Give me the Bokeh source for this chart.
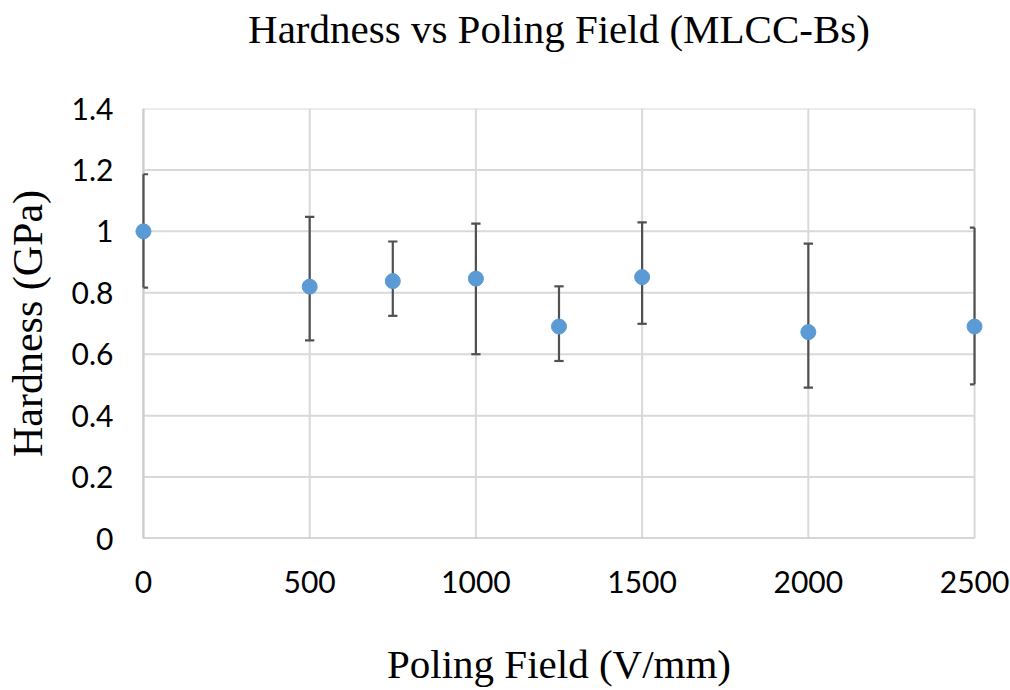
from bokeh.plotting import figure
from bokeh.models import Range1d, FixedTicker, CustomJSTickFormatter, ColumnDataSource, LinearAxis
from bokeh.embed import file_html
from bokeh.resources import INLINE
import numpy as np

# ---- data ----
field = [0, 500, 750, 1000, 1250, 1500, 2000, 2500]
hardness = [1.00, 0.820, 0.838, 0.846, 0.690, 0.851, 0.672, 0.690]
err_upper = [1.186, 1.047, 0.967, 1.025, 0.821, 1.029, 0.960, 1.012]
err_lower = [0.817, 0.645, 0.725, 0.600, 0.578, 0.699, 0.491, 0.502]
x_ticks = [0, 500, 1000, 1500, 2000, 2500]
y_ticks = [0, 0.2, 0.4, 0.6, 0.8, 1, 1.2, 1.4]
x_min, x_max = 0, 2500
y_min, y_max = 0, 1.4

title_txt = "Hardness vs Poling Field (MLCC-Bs)"
xlabel_txt = "Poling Field (V/mm)"
ylabel_txt = "Hardness (GPa)"

pad = 45  # data units of padding so end markers are not clipped
frame_w = 861
frame_h = 430
W, H = 1010, 690

p = figure(width=W, height=H, output_backend="svg", toolbar_location=None,
           x_range=Range1d(x_min - pad, x_max + pad), y_range=Range1d(y_min, y_max),
           frame_width=frame_w, frame_height=frame_h,
           min_border_left=128, min_border_right=W - 128 - frame_w,
           min_border_top=108, min_border_bottom=H - 108 - frame_h)
p.outline_line_color = None
p.xgrid.visible = False
p.ygrid.visible = False
p.background_fill_color = "white"

bottom_ax = p.below[0]
left_ax = p.left[0]

# chart title as the label of a tick-less axis above the frame
top_ax = LinearAxis(ticker=FixedTicker(ticks=[]), axis_label=title_txt)
p.add_layout(top_ax, "above")

for ax in (bottom_ax, left_ax, top_ax):
    ax.axis_line_color = None
    ax.major_tick_line_color = None
    ax.minor_tick_line_color = None
    ax.major_label_text_font = "Lato"
    ax.major_label_text_font_size = "30px"
    ax.major_label_text_color = "black"
    ax.axis_label_text_font = "Liberation Serif"
    ax.axis_label_text_font_size = "41px"
    ax.axis_label_text_font_style = "normal"
    ax.axis_label_text_color = "black"
    ax.major_tick_out = 0
    ax.major_tick_in = 0
    ax.minor_tick_out = 0
    ax.minor_tick_in = 0

top_ax.major_label_standoff = 0
top_ax.axis_label_standoff = 57

bottom_ax.ticker = FixedTicker(ticks=x_ticks)
left_ax.ticker = FixedTicker(ticks=y_ticks)
left_ax.formatter = CustomJSTickFormatter(code="return tick.toString();")
bottom_ax.major_label_standoff = 32
left_ax.major_label_standoff = 15
bottom_ax.axis_label = xlabel_txt
bottom_ax.axis_label_standoff = 45
left_ax.axis_label = ylabel_txt
left_ax.axis_label_text_font_size = "42px"
left_ax.axis_label_standoff = 18

# gridlines (from tick arrays)
p.segment(x0=[x_min] * len(y_ticks), x1=[x_max] * len(y_ticks), y0=y_ticks, y1=y_ticks,
          line_color="#d9d9d9", line_width=2)
p.segment(x0=x_ticks, x1=x_ticks, y0=[y_min] * len(x_ticks), y1=[y_max] * len(x_ticks),
          line_color="#d9d9d9", line_width=2)
# axis lines
p.segment(x0=[x_min], x1=[x_max], y0=[y_min], y1=[y_min], line_color="#bfbfbf", line_width=2)
p.segment(x0=[x_min], x1=[x_min], y0=[y_min], y1=[y_max], line_color="#cccccc", line_width=2)

# error bars
p.segment(x0=field, x1=field, y0=err_lower, y1=err_upper, line_color="#505050", line_width=2.2)
cap = 14  # half cap width in data units
fx = np.array(field, dtype=float)
cx0 = np.clip(fx - cap, x_min, x_max)
cx1 = np.clip(fx + cap, x_min, x_max)
p.segment(x0=cx0, x1=cx1, y0=err_upper, y1=err_upper, line_color="#505050", line_width=2.2)
p.segment(x0=cx0, x1=cx1, y0=err_lower, y1=err_lower, line_color="#505050", line_width=2.2)

# points
src = ColumnDataSource(dict(x=field, y=hardness))
p.scatter("x", "y", source=src, size=15, fill_color="#5b9bd5", line_color="#5b9bd5")

open("out.html", "w").write(file_html(p, INLINE))
